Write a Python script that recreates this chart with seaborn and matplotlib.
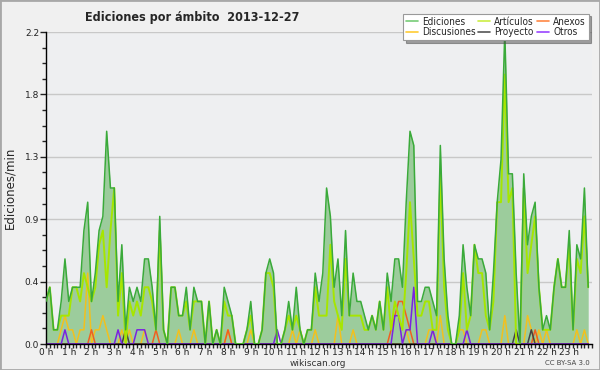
import numpy as np
import pandas as pd
import matplotlib
matplotlib.use("Agg")
import matplotlib.pyplot as plt
from matplotlib.patches import Rectangle
from matplotlib.ticker import FixedLocator, MultipleLocator
import seaborn as sns

# edits per minute, 10-minute bins over the day (144 bins)
ediciones = [
    0.3, 0.4, 0.1, 0.1, 0.3, 0.6, 0.3, 0.4, 0.4, 0.4, 0.8, 1.0,
    0.3, 0.5, 0.8, 0.9, 1.5, 1.1, 1.1, 0.3, 0.7, 0.1, 0.4, 0.3,
    0.4, 0.3, 0.6, 0.6, 0.4, 0.1, 0.9, 0.1, 0.0, 0.4, 0.4, 0.2,
    0.2, 0.4, 0.1, 0.4, 0.3, 0.3, 0.0, 0.3, 0.0, 0.1, 0.0, 0.4,
    0.3, 0.2, 0.0, 0.0, 0.0, 0.1, 0.3, 0.0, 0.0, 0.1, 0.5, 0.6,
    0.5, 0.0, 0.0, 0.1, 0.3, 0.1, 0.4, 0.1, 0.0, 0.1, 0.1, 0.5,
    0.3, 0.5, 1.1, 0.9, 0.4, 0.6, 0.2, 0.8, 0.2, 0.5, 0.3, 0.3,
    0.2, 0.1, 0.2, 0.1, 0.3, 0.1, 0.5, 0.3, 0.6, 0.6, 0.4, 1.0,
    1.5, 1.4, 0.3, 0.3, 0.4, 0.4, 0.3, 0.2, 1.4, 0.6, 0.2, 0.0,
    0.0, 0.2, 0.7, 0.4, 0.2, 0.7, 0.6, 0.6, 0.5, 0.1, 0.5, 1.0,
    1.3, 2.2, 1.2, 1.2, 0.5, 0.0, 1.2, 0.7, 0.9, 1.0, 0.4, 0.1,
    0.2, 0.1, 0.4, 0.6, 0.4, 0.4, 0.8, 0.1, 0.7, 0.6, 1.1, 0.4,
]
articulos = [
    0.3, 0.4, 0.1, 0.1, 0.2, 0.2, 0.2, 0.4, 0.4, 0.3, 0.5, 0.4,
    0.3, 0.4, 0.7, 0.8, 0.4, 0.8, 1.1, 0.2, 0.5, 0.0, 0.3, 0.2,
    0.3, 0.2, 0.4, 0.4, 0.3, 0.1, 0.8, 0.1, 0.0, 0.4, 0.4, 0.2,
    0.2, 0.3, 0.1, 0.3, 0.3, 0.3, 0.0, 0.3, 0.0, 0.1, 0.0, 0.3,
    0.2, 0.2, 0.0, 0.0, 0.0, 0.1, 0.2, 0.0, 0.0, 0.1, 0.5, 0.5,
    0.4, 0.0, 0.0, 0.1, 0.2, 0.1, 0.2, 0.1, 0.0, 0.1, 0.1, 0.4,
    0.2, 0.2, 0.2, 0.7, 0.3, 0.2, 0.1, 0.6, 0.2, 0.2, 0.2, 0.2,
    0.1, 0.1, 0.2, 0.1, 0.3, 0.1, 0.4, 0.1, 0.3, 0.2, 0.1, 0.5,
    1.0, 0.6, 0.2, 0.2, 0.3, 0.3, 0.1, 0.1, 1.2, 0.4, 0.1, 0.0,
    0.0, 0.1, 0.5, 0.1, 0.2, 0.7, 0.5, 0.5, 0.2, 0.1, 0.3, 1.0,
    1.0, 1.9, 1.0, 1.1, 0.0, 0.0, 1.1, 0.5, 0.7, 0.9, 0.4, 0.1,
    0.1, 0.1, 0.4, 0.6, 0.4, 0.4, 0.7, 0.1, 0.6, 0.5, 0.9, 0.4,
]
discusiones = [
    0.0, 0.0, 0.0, 0.0, 0.1, 0.2, 0.1, 0.1, 0.0, 0.1, 0.1, 0.5,
    0.0, 0.1, 0.1, 0.2, 0.1, 0.0, 0.0, 0.0, 0.1, 0.0, 0.1, 0.0,
    0.0, 0.0, 0.1, 0.0, 0.0, 0.0, 0.0, 0.0, 0.0, 0.0, 0.0, 0.1,
    0.0, 0.0, 0.0, 0.1, 0.0, 0.0, 0.0, 0.0, 0.0, 0.0, 0.0, 0.0,
    0.1, 0.0, 0.0, 0.0, 0.0, 0.0, 0.1, 0.0, 0.0, 0.0, 0.0, 0.0,
    0.0, 0.0, 0.0, 0.0, 0.0, 0.1, 0.0, 0.1, 0.0, 0.0, 0.0, 0.1,
    0.0, 0.0, 0.0, 0.0, 0.0, 0.2, 0.0, 0.0, 0.0, 0.1, 0.0, 0.0,
    0.0, 0.0, 0.0, 0.0, 0.0, 0.0, 0.0, 0.0, 0.0, 0.0, 0.0, 0.1,
    0.0, 0.0, 0.0, 0.0, 0.0, 0.1, 0.1, 0.0, 0.2, 0.0, 0.0, 0.0,
    0.0, 0.1, 0.1, 0.0, 0.0, 0.0, 0.0, 0.1, 0.1, 0.0, 0.0, 0.0,
    0.0, 0.2, 0.0, 0.0, 0.0, 0.0, 0.0, 0.2, 0.1, 0.0, 0.1, 0.0,
    0.1, 0.0, 0.0, 0.0, 0.0, 0.0, 0.0, 0.0, 0.1, 0.0, 0.1, 0.0,
]
anexos = [0.0] * 144
for k, v in {12: 0.1, 29: 0.1, 48: 0.1, 91: 0.1, 92: 0.2, 93: 0.3,
             94: 0.3, 95: 0.2, 96: 0.1, 129: 0.1}.items():
    anexos[k] = v
proyecto = [0.0] * 144
for k, v in {21: 0.1, 124: 0.1, 128: 0.1}.items():
    proyecto[k] = v
otros = [0.0] * 144
for k, v in {5: 0.1, 19: 0.1, 24: 0.1, 25: 0.1, 26: 0.1, 61: 0.1,
             92: 0.2, 93: 0.2, 95: 0.1, 96: 0.1, 97: 0.4, 102: 0.1,
             111: 0.1}.items():
    otros[k] = v

hours = np.arange(144) / 6.0
hour_labels = [f"{h} h" for h in range(24)]

df = pd.DataFrame({"hora": hours, "Ediciones": ediciones, "Artículos": articulos,
                   "Discusiones": discusiones, "Anexos": anexos,
                   "Proyecto": proyecto, "Otros": otros})

sns.set_style("ticks")
plt.rcParams["font.family"] = ["DejaVu Sans"]

fig = plt.figure(figsize=(6, 3.7), dpi=100, facecolor="#f0f0f0")
fig.patches.append(Rectangle((0, 0), 1, 1, transform=fig.transFigure, fill=False,
                             edgecolor="#a8a8a8", linewidth=2))
ax = fig.add_axes([46 / 600, 1 - 344 / 370, 546 / 600, 312 / 370])
ax.set_facecolor("#eeeff1")

ax.fill_between(df["hora"], df["Ediciones"], color="#9ccc9c", linewidth=0, zorder=1)

colors = {"Ediciones": "#3aaa3a", "Discusiones": "#f2c01e", "Artículos": "#a6e600",
          "Proyecto": "#444444", "Anexos": "#f06020", "Otros": "#7a22e0"}
draw_order = ["Discusiones", "Anexos", "Proyecto", "Otros", "Artículos", "Ediciones"]
for name in draw_order:
    sns.lineplot(data=df, x="hora", y=name, ax=ax, color=colors[name],
                 linewidth=1.4 if name == "Artículos" else 1.1,
                 zorder=3 if name == "Ediciones" else 2)

ax.set_xlim(0, 24)
ax.set_ylim(0, 2.2)
yt = np.linspace(0, 2.2, 6)
ax.yaxis.set_major_locator(FixedLocator(yt))
ax.set_yticklabels([f"{v:.1f}" for v in yt])
ax.yaxis.set_minor_locator(FixedLocator(np.linspace(0, 2.2, 21)))
ax.set_xticks(range(24))
ax.set_xticklabels(hour_labels)
ax.xaxis.set_minor_locator(MultipleLocator(1 / 6))
ax.tick_params(axis="y", which="major", length=4, width=1, labelsize=6.5,
               colors="#222222", pad=1)
ax.tick_params(axis="x", which="major", length=3, width=1, labelsize=6.5,
               colors="#222222", pad=0)
ax.tick_params(axis="both", which="minor", length=3, width=1)
ax.grid(axis="y", color="#c8c8c8", linewidth=1)
ax.set_axisbelow(True)
sns.despine(ax=ax)
for s in ["left", "bottom"]:
    ax.spines[s].set_color("black")
    ax.spines[s].set_linewidth(1)
ax.set_xlabel("")
ax.set_ylabel("Ediciones/min", fontsize=8.5, labelpad=6)

handles = [plt.Line2D([], [], color=c, linewidth=1.2) for c in
           ["#77cc77", "#ffcc33", "#ccee44", "#555555", "#ff8844", "#9944ff"]]
labels = ["Ediciones", "Discusiones", "Artículos", "Proyecto", "Anexos", "Otros"]
leg = ax.legend(handles, labels, ncol=3, loc="upper right", bbox_to_anchor=(1.003, 1.075),
                prop={"size": 7.2, "stretch": "condensed"}, frameon=True, fancybox=False,
                shadow=True, handlelength=1.2, handletextpad=0.4, columnspacing=0.3,
                labelspacing=0.05, borderpad=0.3)
leg.get_frame().set_edgecolor("#999999")
leg.get_frame().set_linewidth(0.8)
leg.set_zorder(5)

fig.text(85 / 600, 1 - 17 / 370, "Ediciones por ámbito  2013-12-27", fontsize=9,
         fontweight="bold", fontstretch="condensed", va="center", ha="left")
fig.text(318 / 600, 1 - 363 / 370, "wikiscan.org", fontsize=6.5, ha="center", va="center",
         color="#333333")
fig.text(590 / 600, 1 - 363 / 370, "CC BY-SA 3.0", fontsize=5, ha="right", va="center",
         color="#444444")

fig.savefig("out.png", dpi=100, facecolor=fig.get_facecolor())
